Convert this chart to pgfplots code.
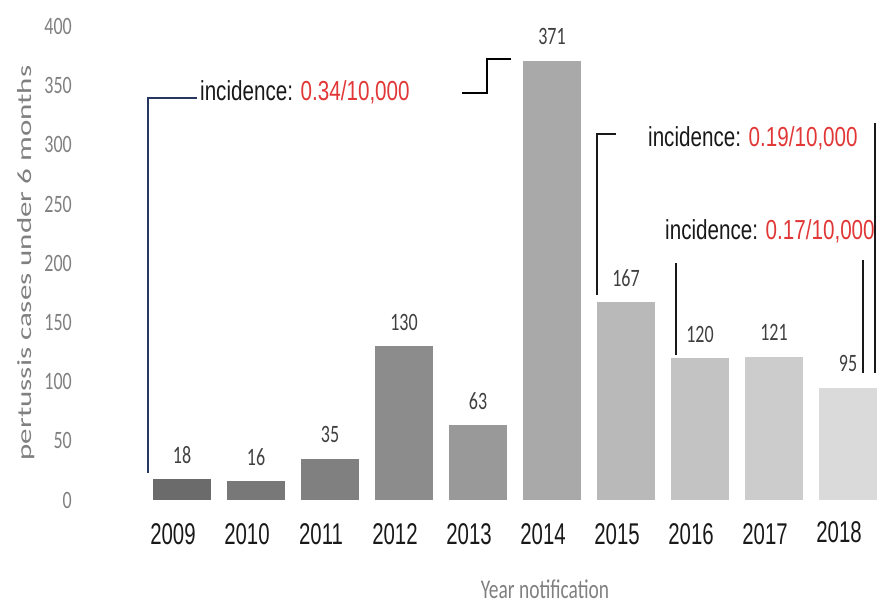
\documentclass[border=0pt]{standalone}
\usepackage{fontspec}
\usepackage{pgfplots}
\pgfplotsset{compat=1.18}
\setmainfont{Carlito}
\newfontfamily\arialn[FakeStretch=0.75]{Liberation Sans}
\newfontfamily\yearf[FakeStretch=0.68]{Liberation Sans}
\newfontfamily\calin[FakeStretch=0.72]{Carlito}
\definecolor{redA}{RGB}{225,55,55}
\definecolor{navyA}{RGB}{40,55,95}
\definecolor{labgray}{RGB}{128,128,128}
\definecolor{valgray}{RGB}{64,64,64}
\definecolor{c0}{HTML}{6B6B6B}
\definecolor{c1}{HTML}{787878}
\definecolor{c2}{HTML}{808080}
\definecolor{c3}{HTML}{8C8C8C}
\definecolor{c4}{HTML}{999999}
\definecolor{c5}{HTML}{A9A9A9}
\definecolor{c6}{HTML}{B9B9B9}
\definecolor{c7}{HTML}{C3C3C3}
\definecolor{c8}{HTML}{CCCCCC}
\definecolor{c9}{HTML}{DADADA}
\pgfplotsset{mybar/.style={ybar, bar width=58.5bp, bar shift=0pt, draw=none}}
\begin{document}
\begin{tikzpicture}
\useasboundingbox (0,0) rectangle (877bp,604bp);
\begin{axis}[
  at={(137.6bp,104bp)}, anchor=south west,
  scale only axis, width=740bp, height=500bp,
  xmin=-0.6, xmax=9.4, ymin=0, ymax=422.5,
  axis line style={draw=none},
  major tick style={draw=none},
  ytick={0,50,...,400},
  xtick={0,...,9},
  xticklabels={2009,2010,{\raisebox{-5bp}{2011}},2012,2013,2014,2015,2016,2017,{\raisebox{3bp}{2018}}},
  xticklabel style={font=\yearf\fontsize{30bp}{36bp}\selectfont, text=black!90, anchor=center, yshift=-34bp, xshift=-9bp, inner sep=0pt},
  yticklabel style={font=\calin\fontsize{25bp}{30bp}\selectfont, text=labgray, anchor=east, xshift=-65.6bp, inner sep=0pt},
  /pgf/number format/assume math mode=true,
  ylabel={\scalebox{1}[0.65]{pertussis cases under 6 months}},
  ylabel style={at={(rel axis cs:-0.150,0.474)}, anchor=center, font=\fontsize{31bp}{36bp}\selectfont, text=labgray},
  xlabel={Year notification},
  xlabel style={at={(rel axis cs:0.5505,-0.179)}, anchor=center, font=\calin\fontsize{27bp}{32bp}\selectfont, text=labgray},
  clip=false,
  nodes near coords,
  every node near coord/.append style={font=\calin\fontsize{25bp}{30bp}\selectfont, text=valgray, anchor=center, yshift=24bp},
]
\addplot[mybar, fill=c0] coordinates {(0,18)};
\addplot[mybar, fill=c1] coordinates {(1,16)};
\addplot[mybar, fill=c2] coordinates {(2,35)};
\addplot[mybar, fill=c3] coordinates {(3,130)};
\addplot[mybar, fill=c4] coordinates {(4,63)};
\addplot[mybar, fill=c5] coordinates {(5,371)};
\addplot[mybar, fill=c6] coordinates {(6,167)};
\addplot[mybar, fill=c7] coordinates {(7,120)};
\addplot[mybar, fill=c8] coordinates {(8,121)};
\addplot[mybar, fill=c9] coordinates {(9,95)};

\draw[navyA, line width=1.6bp] (axis cs:-0.459,22.8) -- (axis cs:-0.459,339.7) -- (axis cs:0.203,339.7);
\node[anchor=base west, inner sep=0pt, font=\arialn\fontsize{27.5bp}{33bp}\selectfont, text=black!90] at (axis cs:0.243,337.9) {incidence: \textcolor{redA}{0.34/10,000}};

\draw[black, line width=2bp] (axis cs:3.784,343.9) -- (axis cs:4.122,343.9) -- (axis cs:4.122,372.7) -- (axis cs:4.446,372.7);

\draw[black!90, line width=1.8bp] (axis cs:5.865,309.3) -- (axis cs:5.608,309.3) -- (axis cs:5.608,173.2);
\node[anchor=base west, inner sep=0pt, font=\arialn\fontsize{27.5bp}{33bp}\selectfont, text=black!90] at (axis cs:6.297,298.3) {incidence: \textcolor{redA}{0.19/10,000}};
\draw[black!90, line width=1.8bp] (axis cs:9.365,318.6) -- (axis cs:9.365,107.3);

\node[anchor=base west, inner sep=0pt, font=\arialn\fontsize{27.5bp}{33bp}\selectfont, text=black!90] at (axis cs:6.527,219.7) {incidence: \textcolor{redA}{0.17/10,000}};
\draw[black!90, line width=1.8bp] (axis cs:6.676,200.3) -- (axis cs:6.676,122.5);
\draw[black!90, line width=1.8bp] (axis cs:9.203,202.8) -- (axis cs:9.203,107.3);
\end{axis}
\end{tikzpicture}
\end{document}
